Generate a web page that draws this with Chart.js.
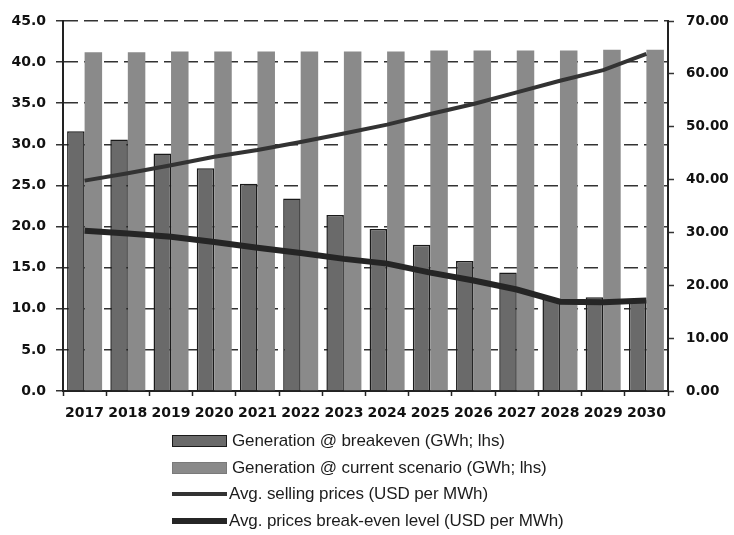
<!DOCTYPE html>
<html>
<head>
<meta charset="utf-8">
<script src="https://cdn.jsdelivr.net/npm/chart.js@4/dist/chart.umd.min.js"></script>
<style>
  html, body { margin: 0; padding: 0; background: #ffffff; }
  #wrap { position: relative; width: 734px; height: 535px; overflow: hidden; }
  #c { position: absolute; left: 0; top: 0; }
  #legend {
    position: absolute; left: 172px; top: 428px;
    font-family: "Liberation Sans", Arial, sans-serif; font-size: 17px;
    color: #1c1c1c; letter-spacing: -0.1px;
  }
  .item { display: flex; align-items: center; height: 26.5px; white-space: nowrap; }
  .sw { width: 55px; box-sizing: border-box; margin-right: 5px; }
</style>
</head>
<body>
<div id="wrap">
  <canvas id="c" width="734" height="535"></canvas>
  <div id="legend"></div>
</div>
<script>
// Years on the category axis
const years = ['2017', '2018', '2019', '2020', '2021', '2022', '2023',
               '2024', '2025', '2026', '2027', '2028', '2029', '2030'];

// Generation, GWh (left axis)
const genBreakeven = [31.6, 30.6, 28.9, 27.1, 25.2, 23.4, 21.4, 19.7, 17.8, 15.8, 14.4, 11.2, 11.4, 11.1];
const genCurrent   = [41.2, 41.2, 41.3, 41.3, 41.3, 41.3, 41.3, 41.3, 41.4, 41.4, 41.4, 41.4, 41.5, 41.5];

// Prices, USD per MWh (right axis)
const sellingPrice   = [39.8, 41.2, 42.7, 44.3, 45.6, 47.1, 48.7, 50.4, 52.4, 54.3, 56.5, 58.7, 60.7, 63.8];
const breakevenPrice = [30.3, 29.8, 29.2, 28.2, 27.1, 26.1, 25.0, 24.1, 22.4, 20.9, 19.2, 16.9, 16.8, 17.1];

// Axis ranges
const leftAxis  = { min: 0, max: 45, step: 5 };
const rightAxis = { min: 0, max: 70, step: 10 };

const tickFont  = { family: '"DejaVu Sans", Verdana, sans-serif', weight: 'bold', size: 14 };
const rightFont = { family: '"DejaVu Sans", Verdana, sans-serif', weight: 'bold', size: 13.5 };

const chart = new Chart(document.getElementById('c'), {
  type: 'bar',
  data: {
    labels: years,
    datasets: [
      {
        label: 'Generation @ breakeven (GWh; lhs)',
        data: genBreakeven,
        yAxisID: 'yL',
        backgroundColor: '#6a6a6a',
        borderColor: '#1a1a1a',
        borderWidth: 1.5,
        categoryPercentage: 0.81,
        barPercentage: 1.0,
        order: 1
      },
      {
        label: 'Generation @ current scenario (GWh; lhs)',
        data: genCurrent,
        yAxisID: 'yL',
        backgroundColor: '#8a8a8a',
        borderColor: '#7a7a7a',
        borderWidth: 0,
        categoryPercentage: 0.81,
        barPercentage: 1.0,
        order: 1
      },
      {
        type: 'line',
        label: 'Avg. selling prices (USD per MWh)',
        data: sellingPrice,
        yAxisID: 'yR',
        borderColor: '#333333',
        borderWidth: 4,
        pointRadius: 0,
        tension: 0,
        fill: false,
        order: 0
      },
      {
        type: 'line',
        label: 'Avg. prices break-even level (USD per MWh)',
        data: breakevenPrice,
        yAxisID: 'yR',
        borderColor: '#252525',
        borderWidth: 6,
        pointRadius: 0,
        tension: 0,
        fill: false,
        order: 0
      }
    ]
  },
  options: {
    responsive: false,
    animation: false,
    layout: { padding: { top: 21, bottom: 108, left: 0, right: 0 } },
    plugins: { legend: { display: false }, tooltip: { enabled: false } },
    scales: {
      x: {
        offset: true,
        grid: { offset: true, drawOnChartArea: false, drawTicks: true, tickLength: 5, tickColor: '#222', tickWidth: 1.5 },
        border: { display: true, color: '#222', width: 2 },
        ticks: { color: '#111', font: tickFont, padding: 9, maxRotation: 0, autoSkip: false },
        afterFit(s) { s.height = 36; }
      },
      yL: {
        position: 'left',
        min: leftAxis.min, max: leftAxis.max,
        ticks: {
          stepSize: leftAxis.step, color: '#111', font: tickFont, padding: 10,
          callback: v => Number(v).toFixed(1)
        },
        grid: { color: '#333', lineWidth: 1.5, drawTicks: true, tickLength: 7, tickColor: '#333', tickWidth: 1.5 },
        border: { display: true, color: '#222', width: 2, dash: [14, 6] },
        afterFit(s) { s.width = 63; }
      },
      yR: {
        position: 'right',
        min: rightAxis.min, max: rightAxis.max,
        ticks: {
          stepSize: rightAxis.step, color: '#111', font: rightFont, padding: 12,
          callback: v => Number(v).toFixed(2)
        },
        grid: { drawOnChartArea: false, drawTicks: true, tickLength: 6, tickColor: '#333', tickWidth: 1.5 },
        border: { display: true, color: '#222', width: 2 },
        afterFit(s) { s.width = 66; }
      }
    }
  }
});

// Vertical legend under the chart, built from the datasets
const legendEl = document.getElementById('legend');
chart.data.datasets.forEach(ds => {
  const row = document.createElement('div');
  row.className = 'item';
  const sw = document.createElement('div');
  sw.className = 'sw';
  if (ds.type === 'line') {
    sw.style.height = ds.borderWidth + 'px';
    sw.style.background = ds.borderColor;
    sw.style.marginRight = '2px';
  } else {
    sw.style.height = '12px';
    sw.style.background = ds.backgroundColor;
    sw.style.border = ds.borderWidth ? (ds.borderWidth + 'px solid ' + ds.borderColor) : '1px solid ' + ds.borderColor;
  }
  const txt = document.createElement('span');
  txt.textContent = ds.label;
  row.appendChild(sw);
  row.appendChild(txt);
  legendEl.appendChild(row);
});
</script>
</body>
</html>
